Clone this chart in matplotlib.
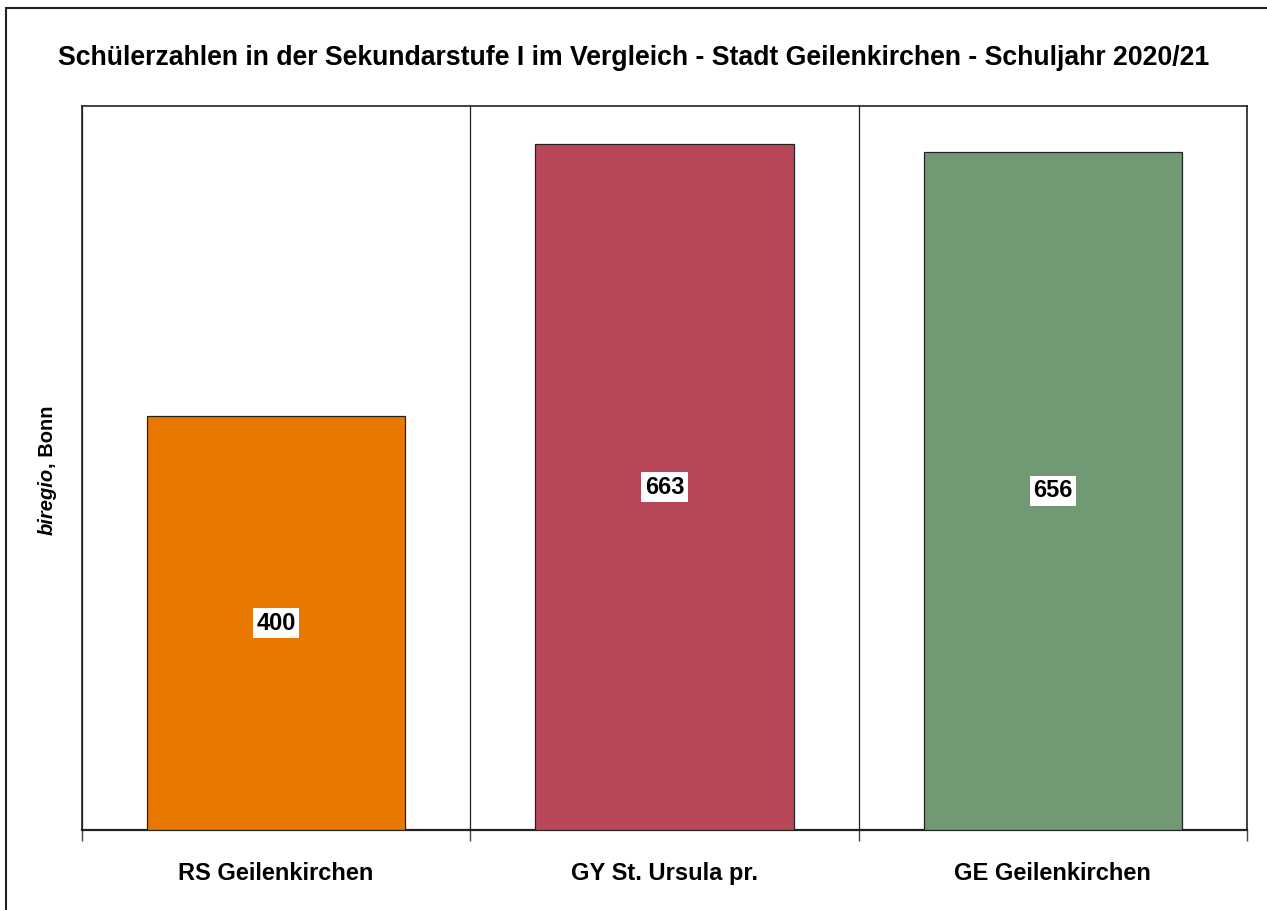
"""Schülerzahlen Sekundarstufe I - Geilenkirchen, bar chart."""
import matplotlib
matplotlib.use("Agg")
import matplotlib.pyplot as plt
from matplotlib.patches import Rectangle

plt.rcParams["font.family"] = ["Liberation Sans", "DejaVu Sans"]

schools = ["RS Geilenkirchen", "GY St. Ursula pr.", "GE Geilenkirchen"]
pupils = [400, 663, 656]
bar_colors = ["#E87800", "#B8475A", "#6F9A74"]
title = "Schülerzahlen in der Sekundarstufe I im Vergleich - Stadt Geilenkirchen - Schuljahr 2020/21"

W, H = 1267, 910
fig = plt.figure(figsize=(W / 100, H / 100), dpi=100)

# outer chart frame (right/bottom edges run off the picture)
fig.patches.append(Rectangle((6 / W, -0.1), 1.2, (H - 8) / H + 0.1, transform=fig.transFigure,
                             fill=False, edgecolor="#222222", linewidth=1.5))

ax = fig.add_axes([82 / W, (H - 830) / H, 1165 / W, 724 / H])
x = list(range(len(schools)))
bars = ax.bar(x, pupils, width=0.665, color=bar_colors, edgecolor="#222222", linewidth=0.9, zorder=3)

ax.set_xlim(-0.5, len(schools) - 0.5)
ax.set_ylim(0, 700)
ax.set_yticks([])
ax.set_xticks(x)
ax.set_xticklabels(schools, fontsize=17, fontweight="bold")
ax.set_xticks([i - 0.5 for i in range(len(schools) + 1)], minor=True)
ax.tick_params(axis="x", which="major", length=0, pad=23)
ax.tick_params(axis="x", which="minor", length=8, width=1, direction="out", color="#444444")
ax.grid(True, which="minor", axis="x", color="#222222", linewidth=0.9, zorder=1)
for s in ax.spines.values():
    s.set_linewidth(1.2)
    s.set_color("#222222")
ax.spines["bottom"].set_linewidth(1.6)

# value labels in white boxes, centred in each bar
for b, v in zip(bars, pupils):
    ax.text(b.get_x() + b.get_width() / 2, v / 2, str(v), ha="center", va="center",
            fontsize=17, fontweight="bold",
            bbox=dict(facecolor="white", edgecolor="none", pad=2.5), zorder=4)

fig.text(0.5, 1 - 58 / H, title, ha="center", va="center", fontsize=19.2, fontweight="bold")

# y label: "biregio" italic, ", Bonn" upright
t1 = fig.text(47 / W, 1 - 535 / H, "biregio", rotation=90, ha="center", va="bottom",
              fontsize=14.5, fontweight="bold", style="italic")
fig.canvas.draw()
top = t1.get_window_extent().y1
fig.text(47 / W, top / H, ", Bonn", rotation=90, ha="center", va="bottom",
         fontsize=14.5, fontweight="bold")

fig.savefig("out.png", dpi=100)
